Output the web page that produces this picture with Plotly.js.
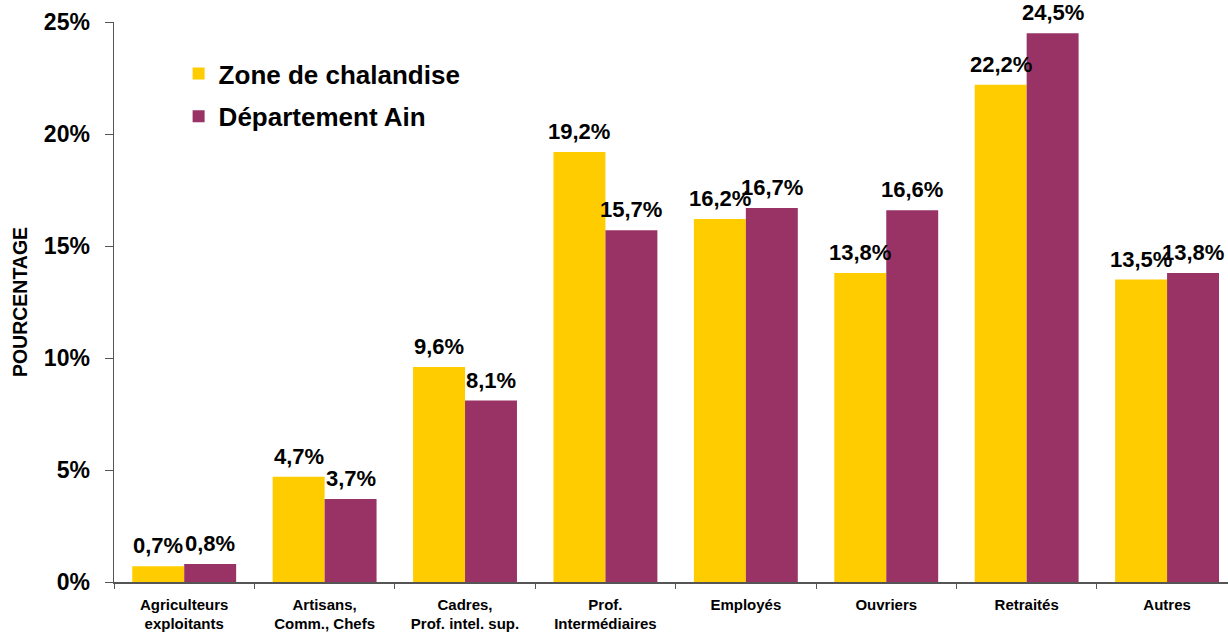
<!DOCTYPE html>
<html>
<head>
<meta charset="utf-8">
<script src="https://cdn.plot.ly/plotly-3.0.1.min.js"></script>
<style>
html,body{margin:0;padding:0;overflow:hidden;background:#fff;}
#chart{width:1228px;height:634px;}
</style>
</head>
<body>
<div id="chart"></div>
<script>
var categories = [
  "Agriculteurs<br>exploitants",
  "Artisans,<br>Comm., Chefs",
  "Cadres,<br>Prof. intel. sup.",
  "Prof.<br>Intermédiaires",
  "Employés",
  "Ouvriers",
  "Retraités",
  "Autres"
];
var zoneValues = [0.7, 4.7, 9.6, 19.2, 16.2, 13.8, 22.2, 13.5];
var ainValues  = [0.8, 3.7, 8.1, 15.7, 16.7, 16.6, 24.5, 13.8];
var seriesNames = ["Zone de chalandise", "Département Ain"];
var yTicks = [0, 5, 10, 15, 20, 25];

var FONT = "Liberation Sans, Arial, sans-serif";
var BARGAP = 0.26;

function barTrace(name, vals, color, group) {
  return {
    type: "bar",
    name: name,
    x: categories,
    y: vals,
    legendgroup: group,
    marker: {color: color, line: {width: 0}},
    hoverinfo: "x+y"
  };
}

var data = [
  barTrace(seriesNames[0], zoneValues, "#FFCC00", "a"),
  barTrace(seriesNames[1], ainValues, "#993366", "b")
];

// value labels above each bar, positioned through the category axis
var half = (1 - BARGAP) / 4;
var annotations = [];
[zoneValues, ainValues].forEach(function(vals, s) {
  vals.forEach(function(v, i) {
    annotations.push({
      xref: "x", yref: "y",
      x: i + (s === 0 ? -half : half),
      y: v,
      text: v.toFixed(1).replace(".", ",") + "%",
      showarrow: false,
      xanchor: "center",
      yanchor: "bottom",
      yshift: 6,
      font: {family: FONT, size: 22, color: "#000", weight: "bold"}
    });
  });
});

var layout = {
  width: 1228,
  height: 634,
  margin: {l: 114, r: 0, t: 22, b: 52, pad: 0},
  paper_bgcolor: "#fff",
  plot_bgcolor: "#fff",
  separators: ",.",
  barmode: "group",
  bargap: BARGAP,
  bargroupgap: 0,
  font: {family: FONT, color: "#000"},
  showlegend: true,
  annotations: annotations,
  legend: {
    x: 0.058, y: 0.95, xanchor: "left", yanchor: "top",
    font: {family: FONT, size: 26, color: "#000", weight: "bold"},
    bgcolor: "rgba(0,0,0,0)",
    tracegroupgap: 6,
    traceorder: "grouped"
  },
  xaxis: {
    type: "category",
    range: [-0.5, 7.434],
    showline: true,
    linecolor: "#555",
    linewidth: 1.5,
    ticks: "outside",
    tickson: "boundaries",
    ticklen: 5,
    tickcolor: "#555",
    showgrid: false,
    zeroline: false,
    tickfont: {family: FONT, size: 15, color: "#000", weight: "bold"},
    ticklabelstandoff: 8,
    fixedrange: true
  },
  yaxis: {
    range: [0, 25],
    tickvals: yTicks,
    ticktext: yTicks.map(function(v){return v + "%";}),
    showline: true,
    linecolor: "#555",
    linewidth: 1.5,
    ticks: "outside",
    ticklen: 8,
    tickcolor: "#555",
    showgrid: false,
    zeroline: false,
    tickfont: {family: FONT, size: 23, color: "#000", weight: "bold"},
    ticklabelstandoff: 10,
    automargin: true,
    title: {text: "POURCENTAGE", font: {family: FONT, size: 19.5, color: "#000", weight: "bold"}, standoff: 11},
    fixedrange: true
  }
};

Plotly.newPlot("chart", data, layout, {displayModeBar: false, staticPlot: true});
</script>
</body>
</html>
